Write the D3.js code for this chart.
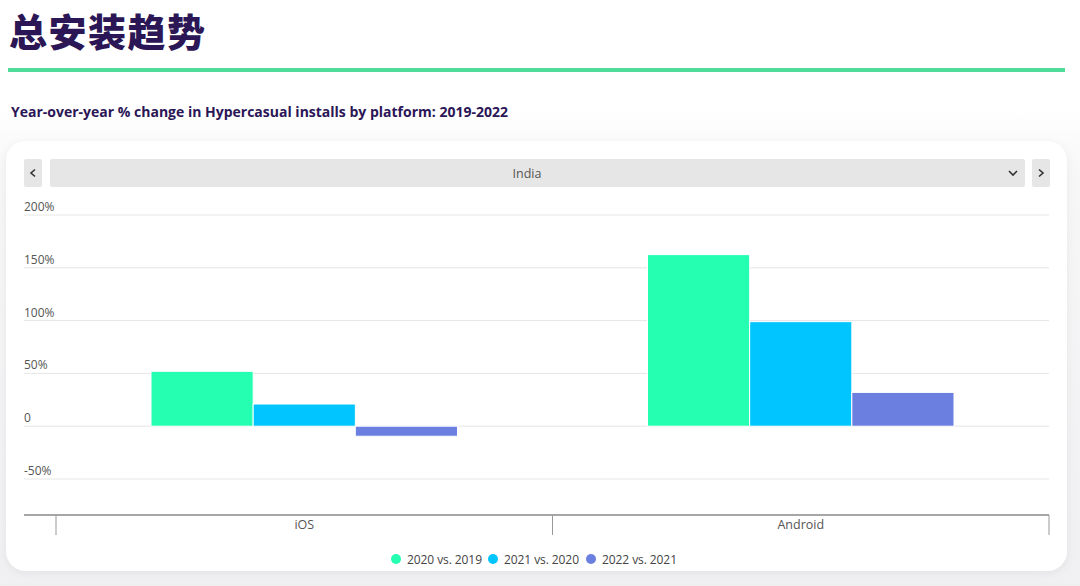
<!DOCTYPE html>
<html>
<head>
<meta charset="utf-8">
<script src="https://cdn.jsdelivr.net/npm/d3@7"></script>
<style>
  body { margin: 0; background: #fff; }
  svg { display: block; }
</style>
</head>
<body>
<div id="chart"></div>
<script>
// data
let platforms = ['iOS', 'Android'];
let seriesNames = ['2020 vs. 2019', '2021 vs. 2020', '2022 vs. 2021'];
let iosValues = [52, 21, -9.5];
let androidValues = [162.5, 99, 32];
let yTicks = [-50, 0, 50, 100, 150, 200];
let colors = ['#24ffb1', '#00c5ff', '#6a7fe0'];

let W = 1080, H = 586;

let svg = d3.select('#chart')
    .append('svg')
    .attr('width', W)
    .attr('height', H);

// background: white at top, fading to light grey behind the card
let defs = svg.append('defs');
let bg = defs.append('linearGradient').attr('id', 'bg').attr('x1', 0).attr('x2', 0).attr('y1', 0).attr('y2', 1);
bg.append('stop').attr('offset', '0%').attr('stop-color', '#ffffff');
bg.append('stop').attr('offset', '18%').attr('stop-color', '#ffffff');
bg.append('stop').attr('offset', '30%').attr('stop-color', '#f7f7f8');
bg.append('stop').attr('offset', '100%').attr('stop-color', '#f0f0f2');
svg.append('rect').attr('width', W).attr('height', H).attr('fill', 'url(#bg)');

let shadow = defs.append('filter').attr('id', 'shadow').attr('x', -0.05).attr('y', -0.05).attr('width', 1.1).attr('height', 1.1);
shadow.append('feDropShadow').attr('dx', 0).attr('dy', 2).attr('stdDeviation', 4)
    .attr('flood-color', '#000').attr('flood-opacity', 0.06);

// header
svg.append('text')
    .text('总安装趋势')
    .attr('x', 9)
    .attr('y', 46)
    .attr('textLength', 196)
    .style('font-family', '"Noto Sans CJK SC", sans-serif')
    .style('font-weight', 900)
    .style('font-size', '38px')
    .style('fill', '#2b1656');

svg.append('rect')
    .attr('x', 8).attr('y', 68)
    .attr('width', 1057).attr('height', 4)
    .attr('fill', '#4fdc9b');

svg.append('text')
    .text('Year-over-year % change in Hypercasual installs by platform: 2019-2022')
    .attr('x', 11)
    .attr('y', 117)
    .style('font-family', '"Open Sans", sans-serif')
    .style('font-weight', 700)
    .style('font-size', '14px')
    .style('fill', '#2b1656');

// card
svg.append('rect')
    .attr('x', 6).attr('y', 141)
    .attr('width', 1061).attr('height', 430)
    .attr('rx', 20)
    .attr('fill', '#fff')
    .attr('filter', 'url(#shadow)');

// dropdown row
svg.append('rect').attr('x', 24).attr('y', 159).attr('width', 18).attr('height', 28).attr('rx', 2).attr('fill', '#e6e6e6');
svg.append('rect').attr('x', 50).attr('y', 159).attr('width', 975).attr('height', 28).attr('rx', 2).attr('fill', '#e6e6e6');
svg.append('rect').attr('x', 1032).attr('y', 159).attr('width', 18).attr('height', 28).attr('rx', 2).attr('fill', '#e6e6e6');
svg.append('path').attr('d', 'M35,169.5 L31,173 L35,176.5').attr('fill', 'none').attr('stroke', '#333').attr('stroke-width', 1.6);
svg.append('path').attr('d', 'M1039,169.5 L1043,173 L1039,176.5').attr('fill', 'none').attr('stroke', '#333').attr('stroke-width', 1.6);
svg.append('path').attr('d', 'M1009,171 L1013,175 L1017,171').attr('fill', 'none').attr('stroke', '#333').attr('stroke-width', 1.6);
svg.append('text')
    .text('India')
    .attr('x', 527).attr('y', 177.5)
    .attr('text-anchor', 'middle')
    .style('font-family', '"Open Sans", sans-serif')
    .style('font-size', '12.5px')
    .style('fill', '#555');

// scales
let plotLeft = 24, plotRight = 1049;
let catLeft = 56;
let y = d3.scaleLinear().domain([-50, 200]).range([479, 215]);
let x0 = d3.scaleBand().domain(platforms).range([catLeft, plotRight]).paddingInner(0).paddingOuter(0);
let x1 = d3.scaleBand().domain(seriesNames).range([0, x0.bandwidth()]).paddingOuter(0.93).paddingInner(0);

let data = platforms.map((p, i) => ({
    platform: p,
    values: (i === 0 ? iosValues : androidValues).map((v, j) => ({ name: seriesNames[j], value: v }))
}));

// gridlines + y labels
let grid = svg.append('g');
grid.selectAll('line')
    .data(yTicks)
    .enter()
    .append('line')
    .attr('x1', plotLeft).attr('x2', plotRight)
    .attr('y1', d => y(d)).attr('y2', d => y(d))
    .attr('stroke', '#e6e6e6')
    .attr('stroke-width', 1);

grid.selectAll('text')
    .data(yTicks)
    .enter()
    .append('text')
    .text(d => d === 0 ? '0' : d + '%')
    .attr('x', plotLeft)
    .attr('y', d => y(d) - 4)
    .style('font-family', '"Open Sans", sans-serif')
    .style('font-size', '12px')
    .style('fill', '#555');

// bars
let groups = svg.selectAll('.bar-group')
    .data(data)
    .enter()
    .append('g')
    .attr('class', 'bar-group')
    .attr('transform', d => `translate(${x0(d.platform)},0)`);

groups.selectAll('rect')
    .data(d => d.values)
    .enter()
    .append('rect')
    .attr('x', d => x1(d.name))
    .attr('y', d => y(Math.max(0, d.value)))
    .attr('width', x1.bandwidth())
    .attr('height', d => Math.abs(y(d.value) - y(0)))
    .attr('fill', (d, i) => colors[i])
    .attr('stroke', '#fff')
    .attr('stroke-width', 1);

// category axis
let axisY = 515;
let xAxis = svg.append('g')
    .attr('transform', `translate(0,${axisY})`)
    .call(d3.axisBottom(x0).tickSize(0).tickPadding(5));
xAxis.select('.domain').remove();
xAxis.selectAll('text')
    .style('font-family', '"Open Sans", sans-serif')
    .style('font-size', '12.5px')
    .style('fill', '#555');

svg.append('line')
    .attr('x1', plotLeft).attr('x2', plotRight)
    .attr('y1', axisY).attr('y2', axisY)
    .attr('stroke', '#888').attr('stroke-width', 1.5);

let bounds = [catLeft, x0('Android'), plotRight];
svg.selectAll('.cat-tick')
    .data(bounds)
    .enter()
    .append('line')
    .attr('class', 'cat-tick')
    .attr('x1', d => d).attr('x2', d => d)
    .attr('y1', axisY).attr('y2', axisY + 20)
    .attr('stroke', '#999').attr('stroke-width', 1);

// legend
let legendX = [396, 493, 591];
let legend = svg.selectAll('.legend')
    .data(seriesNames)
    .enter()
    .append('g')
    .attr('class', 'legend')
    .attr('transform', (d, i) => `translate(${legendX[i]},559)`);
legend.append('circle').attr('r', 5).attr('fill', (d, i) => colors[i]);
legend.append('text')
    .text(d => d)
    .attr('x', 11)
    .attr('y', 4.5)
    .style('font-family', '"Open Sans", sans-serif')
    .style('font-size', '12px')
    .attr('textLength', 75)
    .style('fill', '#444');
</script>
</body>
</html>
